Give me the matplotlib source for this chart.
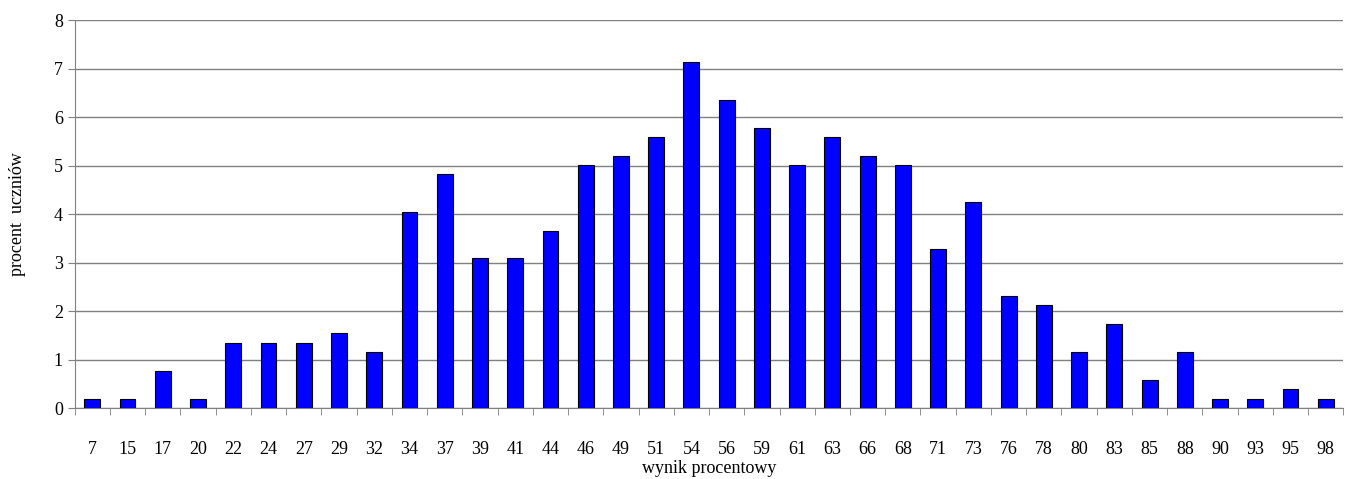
import matplotlib
matplotlib.use("Agg")
import matplotlib.pyplot as plt
import numpy as np

categories = ["7", "15", "17", "20", "22", "24", "27", "29", "32", "34", "37", "39",
              "41", "44", "46", "49", "51", "54", "56", "59", "61", "63", "66", "68",
              "71", "73", "76", "78", "80", "83", "85", "88", "90", "93", "95", "98"]
values = [0.19, 0.19, 0.77, 0.19, 1.35, 1.35, 1.35, 1.54, 1.16, 4.05, 4.82, 3.09,
          3.09, 3.66, 5.01, 5.20, 5.59, 7.13, 6.36, 5.78, 5.01, 5.59, 5.20, 5.01,
          3.28, 4.24, 2.31, 2.12, 1.16, 1.74, 0.58, 1.16, 0.19, 0.19, 0.39, 0.19]

plt.rcParams["font.family"] = ["Liberation Serif", "DejaVu Serif"]

fig = plt.figure(figsize=(13.57, 4.79), dpi=100)
ax = fig.add_axes([0.055, 0.148, 0.935, 0.81])
x = np.arange(len(categories))
ax.bar(x, values, width=0.45, color="#0000FF", edgecolor="black", linewidth=0.8, zorder=3)

ax.set_xlim(-0.5, len(categories) - 0.5)
ax.set_ylim(0, 8)
ax.set_yticks(range(9))
ax.yaxis.grid(True, color="#808080", linewidth=1, zorder=0)
ax.set_xticks(x)
ax.set_xticklabels(categories, fontsize=13)
ax.tick_params(axis="x", length=0, pad=24)
ax.set_xticks(np.arange(-0.5, len(categories)), minor=True)
ax.tick_params(axis="x", which="minor", length=5, color="#808080")
ax.tick_params(axis="y", labelsize=13, length=5, color="#808080")
for s in ["top", "right"]:
    ax.spines[s].set_visible(False)
ax.spines["left"].set_color("#808080")
ax.spines["bottom"].set_color("#808080")
ax.set_xlabel("wynik procentowy", fontsize=13, labelpad=1)
ax.set_ylabel("procent  uczniów", fontsize=13, labelpad=20)

fig.savefig("out.png", dpi=100)
